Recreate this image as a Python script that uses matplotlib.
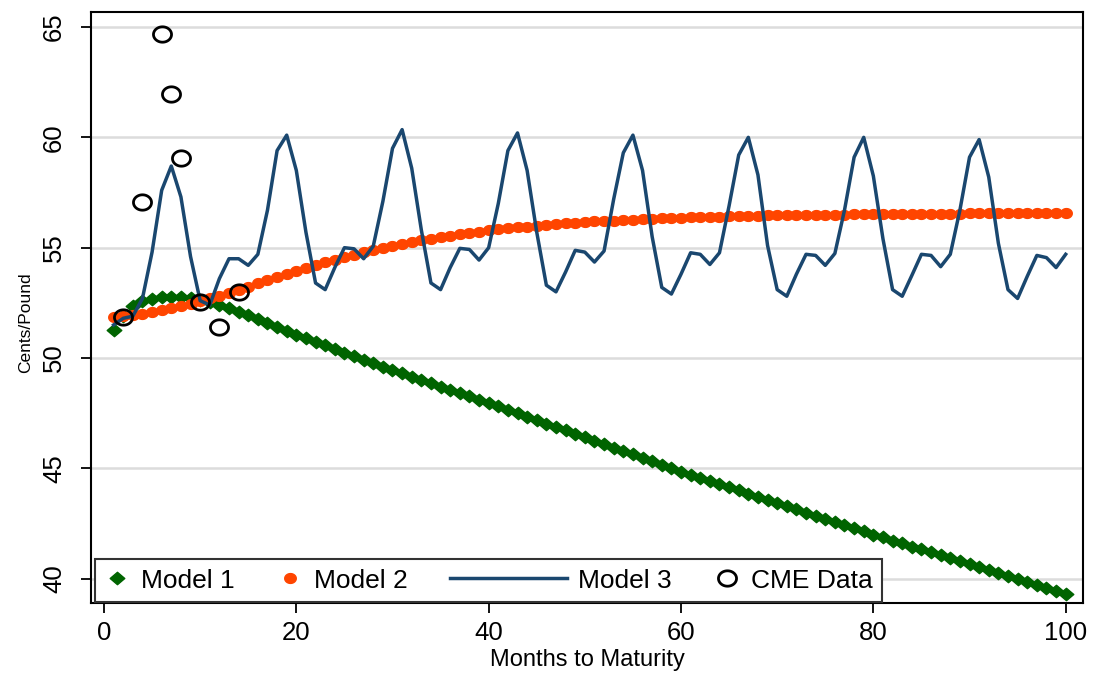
import numpy as np
import matplotlib
matplotlib.use("Agg")
import matplotlib.pyplot as plt
from matplotlib.path import Path
from matplotlib.legend_handler import HandlerLine2D

plt.rcParams['font.family'] = ['Liberation Sans', 'DejaVu Sans']

# months to maturity
months = list(range(1, 101))

model1 = [51.27, 51.90, 52.38, 52.58, 52.69, 52.76, 52.78, 52.76, 52.71, 52.63,
          52.52, 52.40, 52.26, 52.10, 51.93, 51.76, 51.59, 51.41, 51.23, 51.05,
          50.89, 50.73, 50.57, 50.41, 50.25, 50.09, 49.93, 49.77, 49.61, 49.45,
          49.30, 49.15, 49.00, 48.86, 48.71, 48.56, 48.41, 48.26, 48.12, 47.97,
          47.81, 47.66, 47.50, 47.35, 47.19, 47.03, 46.88, 46.72, 46.57, 46.41,
          46.25, 46.10, 45.94, 45.79, 45.63, 45.47, 45.32, 45.16, 45.01, 44.85,
          44.71, 44.57, 44.42, 44.28, 44.14, 44.00, 43.85, 43.71, 43.57, 43.43,
          43.28, 43.14, 43.00, 42.86, 42.71, 42.57, 42.43, 42.29, 42.14, 42.00,
          41.87, 41.73, 41.60, 41.46, 41.33, 41.19, 41.06, 40.92, 40.79, 40.65,
          40.52, 40.38, 40.25, 40.11, 39.98, 39.84, 39.71, 39.57, 39.44, 39.30]

model2 = [51.85, 51.90, 51.95, 52.01, 52.08, 52.16, 52.25, 52.35, 52.46, 52.58,
          52.70, 52.83, 52.96, 53.10, 53.24, 53.38, 53.52, 53.66, 53.80, 53.94,
          54.07, 54.20, 54.33, 54.45, 54.57, 54.68, 54.79, 54.89, 54.99, 55.08,
          55.17, 55.25, 55.33, 55.41, 55.48, 55.55, 55.61, 55.67, 55.73, 55.78,
          55.83, 55.88, 55.92, 55.96, 56.00, 56.04, 56.07, 56.10, 56.13, 56.16,
          56.19, 56.21, 56.23, 56.25, 56.27, 56.29, 56.31, 56.33, 56.34, 56.36,
          56.37, 56.38, 56.40, 56.41, 56.42, 56.43, 56.44, 56.45, 56.46, 56.46,
          56.47, 56.48, 56.48, 56.49, 56.49, 56.50, 56.50, 56.51, 56.51, 56.52,
          56.52, 56.52, 56.53, 56.53, 56.53, 56.54, 56.54, 56.54, 56.54, 56.55,
          56.55, 56.55, 56.55, 56.55, 56.56, 56.56, 56.56, 56.56, 56.56, 56.56]

model3 = [51.5, 51.8, 51.9, 52.7, 54.8, 57.6, 58.7, 57.3, 54.6, 52.6, 52.4, 53.6,
          54.5, 54.5, 54.2, 54.7, 56.7, 59.4, 60.1, 58.5, 55.7, 53.4, 53.1, 54.1,
          55.0, 54.95, 54.5, 55.07, 57.1, 59.5, 60.35, 58.6, 55.8, 53.4, 53.1, 54.1,
          54.97, 54.92, 54.44, 55.0, 57.0, 59.4, 60.2, 58.5, 55.7, 53.3, 53.0, 53.9,
          54.88, 54.8, 54.35, 54.85, 57.2, 59.3, 60.1, 58.5, 55.5, 53.2, 52.9, 53.8,
          54.77, 54.7, 54.24, 54.77, 56.9, 59.2, 60.0, 58.3, 55.1, 53.1, 52.8, 53.8,
          54.7, 54.65, 54.2, 54.74, 56.7, 59.1, 60.0, 58.25, 55.4, 53.1, 52.8, 53.74,
          54.7, 54.65, 54.14, 54.7, 56.7, 59.1, 59.9, 58.2, 55.2, 53.1, 52.7, 53.7,
          54.65, 54.55, 54.1, 54.7]

cme_months = [2, 4, 6, 7, 8, 10, 12, 14]
cme_price = [51.85, 57.05, 64.7, 61.95, 59.05, 52.55, 51.4, 53.0]

# the original graph is a little wider than tall, so markers come out as
# flattened shapes
WIDE = 1.175
t = np.linspace(0, 2 * np.pi, 61)
ellipse = Path(np.column_stack([WIDE * np.cos(t), np.sin(t)]), closed=True)
diamond = Path([(WIDE, 0), (0, 1), (-WIDE, 0), (0, -1), (WIDE, 0)], closed=True)


class WideLineHandler(HandlerLine2D):
    # stretch the handle box so the line sample is long like in stata
    def legend_artist(self, legend, orig_handle, fontsize, handlebox):
        handlebox.width = handlebox.width * 4.45
        return super().legend_artist(legend, orig_handle, fontsize, handlebox)


fig = plt.figure(figsize=(10.97, 6.79), dpi=100)
ax = fig.add_axes([91 / 1097, 1 - 603 / 679, (1083 - 91) / 1097, (603 - 12) / 679])

ax.plot(months, model1, linestyle='none', marker=diamond, ms=10.5,
        color='#006400', label='Model 1', zorder=3)
ax.plot(months, model2, linestyle='none', marker=ellipse, ms=8.3,
        color='#ff4500', label='Model 2', zorder=3)
l3, = ax.plot(months, model3, color='#1a476f', lw=2.5, label='Model 3', zorder=4)
ax.plot(cme_months, cme_price, linestyle='none', marker=ellipse, ms=13,
        mfc='none', mec='black', mew=2.0, label='CME Data', zorder=5)

ax.set_xlim(-1.35, 101.8)
ax.set_ylim(38.9, 65.68)
ax.set_xticks([0, 20, 40, 60, 80, 100])
ax.set_yticks([40, 45, 50, 55, 60, 65])
ax.grid(axis='y', color='#dcdcdc', lw=1.8, zorder=0)
ax.set_axisbelow(True)

ax.tick_params(axis='both', direction='out', length=7, width=1.3,
               color='black', labelsize=18.5)
ax.tick_params(axis='y', pad=11)
ax.tick_params(axis='x', pad=6)
for lab in ax.get_yticklabels():
    lab.set_rotation(90)
    lab.set_va('center')

for sp in ax.spines.values():
    sp.set_linewidth(1.5)
    sp.set_color('black')

ax.set_xlabel('Months to Maturity', fontsize=17, labelpad=3)
ax.set_ylabel('Cents/Pound', fontsize=12.5)
ax.yaxis.set_label_coords(-0.058, 0.475)

leg = ax.legend(loc='lower left', bbox_to_anchor=(0.004, 0.002), borderaxespad=0,
                ncol=4, fontsize=19, handlelength=1.0, handletextpad=0.4,
                columnspacing=1.6, borderpad=0.35, fancybox=False, framealpha=1,
                edgecolor='#333333', handler_map={l3: WideLineHandler()})
leg.get_frame().set_linewidth(1.5)

fig.savefig('out.png', dpi=100)
